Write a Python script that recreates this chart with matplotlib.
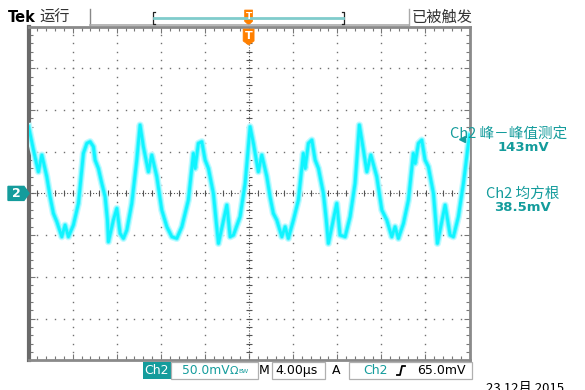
import matplotlib
matplotlib.use('Agg')
import matplotlib.pyplot as plt
from matplotlib.patches import Polygon, Rectangle
from matplotlib.lines import Line2D
from matplotlib.ticker import MultipleLocator
import numpy as np

plt.rcParams['font.family'] = ['DejaVu Sans', 'Noto Sans CJK SC']
CJK = ['Noto Sans CJK SC', 'DejaVu Sans']

# Ch2 trace: time (us) and voltage (mV)
t_us = [-20.0, -19.56, -19.11, -18.80, -18.35, -18.05, -17.75, -17.44, -16.99, -16.69,
        -16.39, -15.94, -15.48, -15.03, -14.72, -14.42, -14.12, -13.97, -13.67, -13.36,
        -13.06, -12.85, -12.76, -12.31, -12.00, -11.70, -11.40, -11.09, -10.64, -10.19,
        -9.89,
        -9.59, -9.13, -8.83, -8.37, -7.92, -7.46, -7.01, -6.56, -6.10, -5.51,
        -5.05, -4.90, -4.60, -4.29, -3.99, -3.69, -3.24, -3.00, -2.78, -2.02,
        -1.72, -1.42, -0.82, -0.36, 0.09,
        0.39, 0.84, 1.15, 1.61, 1.90, 2.20, 2.51, 2.97, 3.27, 3.56,
        4.02, 4.47, 4.92, 5.08, 5.38, 5.69, 5.99, 6.29, 6.74, 7.00,
        7.19, 7.95, 8.25, 8.71, 9.16, 9.61, 10.0,
        10.37, 10.68, 11.04, 11.58, 12.04, 12.49, 12.94, 13.24, 13.54, 14.00,
        14.45, 14.90, 15.06, 15.36, 15.66, 15.96, 16.26, 16.72, 16.92, 17.08,
        17.78, 18.23, 18.53, 18.98, 19.44, 19.89, 20.0]
v_mv = [80, 52, 26, 46, 20, -4, -24, -34, -52, -38,
        -52, -38, -12, 48, 60, 62, 56, 40, 30, 12,
        -4, -32, -58, -32, -18, -48, -54, -44, -12, 40,
        82,
        56, 26, 46, 20, -20, -40, -52, -54, -40, -8,
        48, 30, 60, 62, 40, 30, 0, -32, -60, -14,
        -52, -50, -28, 12, 80,
        60, 26, 46, 20, -4, -24, -32, -52, -40, -54,
        -32, -8, 48, 30, 60, 64, 40, 30, 0, -32,
        -60, -12, -50, -52, -28, 12, 82,
        52, 26, 46, 20, -20, -32, -52, -40, -54, -36,
        -8, 48, 36, 60, 64, 40, 32, 0, -32, -60,
        -14, -50, -52, -28, 12, 60, 70]

volts_div = 50.0     # mV/div
time_div = 4.00      # us/div
trig_level = 65.0    # mV
pk_pk = '143mV'
rms = '38.5mV'
date_str = '23 12月 2015'

TEAL = '#149c9c'
CYAN = '#10f4ff'
ORANGE = '#ff8000'
GRID = '#707070'

W, H = 585, 390
fig = plt.figure(figsize=(W / 100, H / 100), dpi=100)
fig.patch.set_facecolor('white')


def fx(x):
    return x / W


def fy(y):
    return 1 - y / H


# screen area, 10 x 8 divisions
ax = fig.add_axes([fx(28.6), fy(360.2), 441 / W, 333.6 / H])
ax.set_xlim(-5 * time_div, 5 * time_div)
ax.set_ylim(-4 * volts_div, 4 * volts_div)
ax.xaxis.set_major_locator(MultipleLocator(time_div))
ax.xaxis.set_minor_locator(MultipleLocator(time_div / 5))
ax.yaxis.set_major_locator(MultipleLocator(volts_div))
ax.yaxis.set_minor_locator(MultipleLocator(volts_div / 5))
ax.tick_params(which='both', direction='in', top=True, right=True,
               labelleft=False, labelbottom=False, color='#777', width=0.8)
ax.tick_params(which='major', length=4)
ax.tick_params(which='minor', length=3)
for s in ax.spines.values():
    s.set_color('#8a8a8a')
    s.set_linewidth(2)
ax.spines['left'].set_linewidth(3)
ax.spines['left'].set_color('#6a6a6a')

# dotted graticule
xs_minor = np.arange(-20, 20.01, time_div / 5)
ys_minor = np.arange(-200, 200.01, volts_div / 5)
for xm in np.arange(-16, 16.01, time_div):
    if abs(xm) < 1e-6:
        continue
    ax.plot(np.full_like(ys_minor, xm), ys_minor, ls='none', marker='s',
            ms=1.0, color=GRID, mew=0)
for ym in np.arange(-150, 150.01, volts_div):
    if abs(ym) < 1e-6:
        continue
    ax.plot(xs_minor, np.full_like(xs_minor, ym), ls='none', marker='s',
            ms=1.0, color=GRID, mew=0)

# center crosshair
ax.axhline(0, color='#555', lw=0.8, ls=(0, (1, 1.6)))
ax.axvline(0, color='#555', lw=0.8, ls=(0, (1, 1.6)))
ax.plot(xs_minor, np.zeros_like(xs_minor), ls='none', marker='|', ms=4,
        color='#555', mew=0.8)
ax.plot(np.zeros_like(ys_minor), ys_minor, ls='none', marker='_', ms=4,
        color='#555', mew=0.8)

# waveform, soft halo under a bright core
ax.plot(t_us, v_mv, color='#c4fbff', lw=5.2, solid_joinstyle='round', zorder=5)
ax.plot(t_us, v_mv, color='#6ff6ff', lw=3.4, solid_joinstyle='round', zorder=5)
ax.plot(t_us, v_mv, color=CYAN, lw=2.0, solid_joinstyle='round', zorder=6)

# header
fig.text(fx(8), fy(17), 'Tek', fontsize=10.5, fontweight='bold', va='center')
fig.text(fx(39), fy(17), '运行', family=CJK, fontsize=11, color='#333', va='center')
fig.text(fx(412), fy(17), '已被触发', family=CJK, fontsize=11, color='#333', va='center')
fig.add_artist(Line2D([fx(90), fx(90)], [fy(9), fy(25)], color='#888', lw=1))
fig.add_artist(Line2D([fx(408.5), fx(408.5)], [fy(9), fy(25)], color='#aaa', lw=1))
fig.add_artist(Line2D([fx(90), fx(408.5)], [fy(24.5), fy(24.5)], color='#aaa', lw=1.2))

# record position bracket
fig.add_artist(Line2D([fx(155), fx(153), fx(153), fx(155)],
                      [fy(12), fy(12), fy(24), fy(24)], color='#222', lw=0.9))
fig.add_artist(Line2D([fx(342), fx(344), fx(344), fx(342)],
                      [fy(12), fy(12), fy(24), fy(24)], color='#222', lw=0.9))
fig.add_artist(Line2D([fx(154), fx(343)], [fy(18), fy(18)], color='#80cccc', lw=2))


def t_marker(xc, ytop, w, h, fs):
    pts = [(xc - w / 2, ytop), (xc + w / 2, ytop), (xc + w / 2, ytop + h * 0.75),
           (xc, ytop + h), (xc - w / 2, ytop + h * 0.75)]
    fig.add_artist(Polygon([(fx(a), fy(b)) for a, b in pts], closed=True,
                           transform=fig.transFigure, fc=ORANGE, ec=ORANGE, lw=0.5))
    fig.text(fx(xc), fy(ytop + h * 0.42), 'T', color='white', fontsize=fs,
             fontweight='bold', ha='center', va='center')


t_marker(248.6, 10, 8, 15, 6.5)
t_marker(248.6, 29, 11, 16, 8)

# channel 2 ground marker
pts = [(8, 186.4), (24, 186.4), (29, 193.4), (24, 200.4), (8, 200.4)]
fig.add_artist(Polygon([(fx(a), fy(b)) for a, b in pts], closed=True,
                       transform=fig.transFigure, fc=TEAL, ec=TEAL))
fig.text(fx(16), fy(193.6), '2', color='white', fontsize=9, fontweight='bold',
         ha='center', va='center')

# trigger level marker on right edge
ax.plot([19.3], [trig_level], marker='<', ms=5, color=TEAL, clip_on=False, zorder=7)

# measurements
fig.text(fx(509), fy(135), 'Ch2 峰－峰值测定', family=CJK, fontsize=10.5,
         fontweight='medium', color=TEAL, ha='center', va='center')
fig.text(fx(523), fy(147.5), pk_pk, fontsize=9.5, fontweight='bold', color=TEAL,
         ha='center', va='center')
fig.text(fx(523), fy(194), 'Ch2 均方根', family=CJK, fontsize=10.5,
         fontweight='medium', color=TEAL, ha='center', va='center')
fig.text(fx(522), fy(207.5), rms, fontsize=9.5, fontweight='bold', color=TEAL,
         ha='center', va='center')

# status bar
ytxt = 370.5
fig.add_artist(Rectangle((fx(142.5), fy(378.5)), 28 / W, 16.5 / H,
                         transform=fig.transFigure, fc=TEAL, ec='none'))
fig.text(fx(156.5), fy(ytxt), 'Ch2', color='white', fontsize=9, ha='center', va='center')
for x0, x1 in [(171, 258), (272, 325), (349, 472)]:
    fig.add_artist(Rectangle((fx(x0), fy(378.5)), (x1 - x0) / W, 16.5 / H,
                             transform=fig.transFigure, fc='none', ec='#b0b0b0', lw=0.9))
fig.text(fx(182), fy(ytxt), '%.1fmV' % volts_div, color=TEAL, fontsize=8.8, va='center')
fig.text(fx(229.5), fy(ytxt), 'Ω', color=TEAL, fontsize=8, va='center')
fig.text(fx(238.5), fy(ytxt + 1), 'BW', color=TEAL, fontsize=4.5, va='center')
fig.text(fx(259), fy(ytxt), 'M', color='black', fontsize=9, va='center')
fig.text(fx(275), fy(ytxt), '%.2fµs' % time_div, color='black', fontsize=9, va='center')
fig.text(fx(332), fy(ytxt), 'A', color='black', fontsize=9, va='center')
fig.text(fx(363), fy(ytxt), 'Ch2', color=TEAL, fontsize=9, va='center')
fig.add_artist(Line2D([fx(397), fx(400), fx(402), fx(405)],
                      [fy(375), fy(375), fy(366), fy(366)], color='black', lw=1.3))
fig.text(fx(417), fy(ytxt), '%.1fmV' % trig_level, color='black', fontsize=9, va='center')
fig.text(fx(486), fy(381.5), date_str, family=CJK, fontsize=9.5, color='black', va='top')

fig.savefig('out.png', dpi=100, facecolor='white')
